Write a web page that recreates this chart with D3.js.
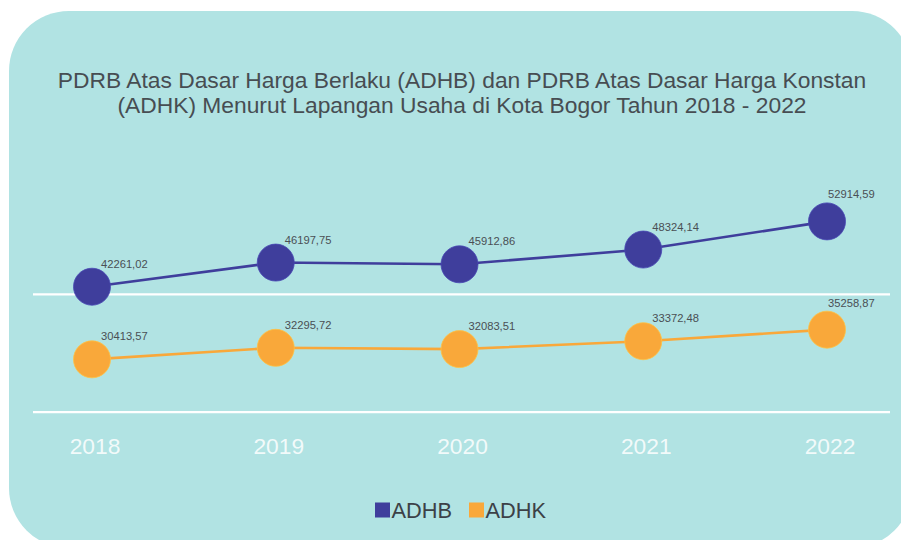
<!DOCTYPE html>
<html>
<head>
<meta charset="utf-8">
<script src="https://cdn.jsdelivr.net/npm/d3@7"></script>
<style>
  body { margin: 0; background: #fff; }
  svg { display: block; font-family: "Liberation Sans", Arial, Helvetica, sans-serif; }
</style>
</head>
<body>
<svg id="chart"></svg>
<script>
// data
const years = ["2018", "2019", "2020", "2021", "2022"];
const adhb = [42261.02, 46197.75, 45912.86, 48324.14, 52914.59];
const adhk = [30413.57, 32295.72, 32083.51, 33372.48, 35258.87];
const gridValues = [21800, 41000];
const seriesNames = ["ADHB", "ADHK"];
const titleLines = [
    "PDRB Atas Dasar Harga Berlaku (ADHB) dan PDRB Atas Dasar Harga Konstan",
    "(ADHK) Menurut Lapangan Usaha di Kota Bogor Tahun 2018 - 2022"
];

// config
const widthSvg = 901, heightSvg = 540;
const colors = {ADHB: "#3f3e9c", ADHK: "#f9a83a"};
const bg = "#b1e3e3";

const svg = d3.select("#chart").attr("width", widthSvg).attr("height", heightSvg);

svg.append("rect")
    .attr("x", 9).attr("y", 11)
    .attr("width", 903).attr("height", 537)
    .attr("rx", 60).attr("ry", 60)
    .attr("fill", bg);

svg.append("g").selectAll("text")
    .data(titleLines)
    .join("text")
    .attr("x", 462)
    .attr("y", (d, i) => 87.5 + i * 25)
    .attr("text-anchor", "middle")
    .attr("font-size", 22.8)
    .attr("fill", "#474d52")
    .text(d => d);

let x = d3.scalePoint().domain(years).range([92, 827]);
// linear value scale, no visible axis
let y = d3.scaleLinear().domain([20000, 55000]).range([423.2, 208.6]);

svg.append("g").selectAll("line")
    .data(gridValues)
    .join("line")
    .attr("x1", 33).attr("x2", 890)
    .attr("y1", d => y(d)).attr("y2", d => y(d))
    .attr("stroke", "#fff")
    .attr("stroke-width", 2.2);

svg.append("g").selectAll("text")
    .data(years)
    .join("text")
    .attr("x", d => x(d) + 3)
    .attr("y", 454)
    .attr("text-anchor", "middle")
    .attr("font-size", 22.8)
    .attr("fill", "rgba(255,255,255,0.85)")
    .text(d => d);

const series = [
    {key: "ADHB", values: adhb},
    {key: "ADHK", values: adhk}
];

const lineGen = d3.line()
    .x((d, i) => x(years[i]))
    .y(d => y(d));

const fmt = v => v.toFixed(2).replace(".", ",");

series.forEach(s => {
    const g = svg.append("g").attr("class", "gCategory");
    g.append("path")
        .datum(s.values)
        .attr("d", lineGen)
        .attr("fill", "none")
        .attr("stroke", colors[s.key])
        .attr("stroke-width", 2.6);
    g.selectAll("circle")
        .data(s.values)
        .join("circle")
        .attr("cx", (d, i) => x(years[i]))
        .attr("cy", d => y(d))
        .attr("r", 18.5)
        .attr("fill", colors[s.key])
        .attr("stroke", d3.color(colors[s.key]).brighter(0.4))
        .attr("stroke-width", 0.8);
    g.selectAll("text")
        .data(s.values)
        .join("text")
        .attr("x", (d, i) => x(years[i]) + (i === years.length - 1 ? 1 : 9))
        .attr("y", (d, i) => y(d) - (i === years.length - 1 ? 23 : 19))
        .attr("font-size", 11.2)
        .attr("fill", "#4a4f54")
        .text(d => fmt(d));
});

// legend
const legend = svg.append("g").attr("transform", "translate(375,0)");
const legendX = [0, 94];
const lg = legend.selectAll("g")
    .data(seriesNames)
    .join("g")
    .attr("transform", (d, i) => "translate(" + legendX[i] + ",0)");
lg.append("rect")
    .attr("x", 0).attr("y", 502.5)
    .attr("width", 15).attr("height", 15)
    .attr("fill", d => colors[d]);
lg.append("text")
    .attr("x", 16.5).attr("y", 518)
    .attr("font-size", 21.8)
    .attr("fill", "#3c4147")
    .text(d => d);
</script>
</body>
</html>
